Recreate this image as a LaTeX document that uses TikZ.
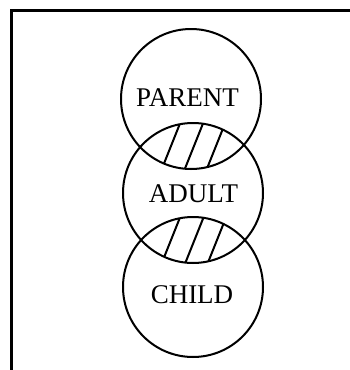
\documentclass[tikz,border=0pt]{standalone}
\usepackage{fontspec}
\setmainfont{Liberation Serif}
\begin{document}
\begin{tikzpicture}[x=1pt,y=-1pt,
  ring/.style={circle,draw,line width=2pt,minimum size=140pt,inner sep=0pt},
  tag/.style={anchor=base,inner sep=0pt,font=\fontsize{27}{32}\selectfont},
  hatch/.style={line width=2pt}]
\useasboundingbox (0,0) rectangle (350,370);

% frame
\draw[line width=2.4pt] (11.5,371) -- (11.5,10.5) -- (351,10.5);

% circle centres
\coordinate (cp) at (191,99);
\coordinate (ca) at (193,193);
\coordinate (cc) at (193,287);

% hatched overlaps
\begin{scope}
  \clip (cp) circle[radius=70pt];
  \clip (ca) circle[radius=70pt];
  \foreach \xm in {171,194,216}
    \draw[hatch] (\xm+20,96) -- (\xm-20,196);
\end{scope}
\begin{scope}
  \clip (ca) circle[radius=70pt];
  \clip (cc) circle[radius=70pt];
  \foreach \xm in {171,194.5,217}
    \draw[hatch] (\xm+20,190) -- (\xm-20,290);
\end{scope}

% circles
\node[ring] (parent) at (cp) {};
\node[ring] (adult) at (ca) {};
\node[ring] (child) at (cc) {};

% labels
\node[tag] (tp) at (187.5,106) {PARENT};
\node[tag] (ta) at (193.5,202) {ADULT};
\node[tag] (tc) at (192,303.3) {CHILD};
\end{tikzpicture}
\end{document}
